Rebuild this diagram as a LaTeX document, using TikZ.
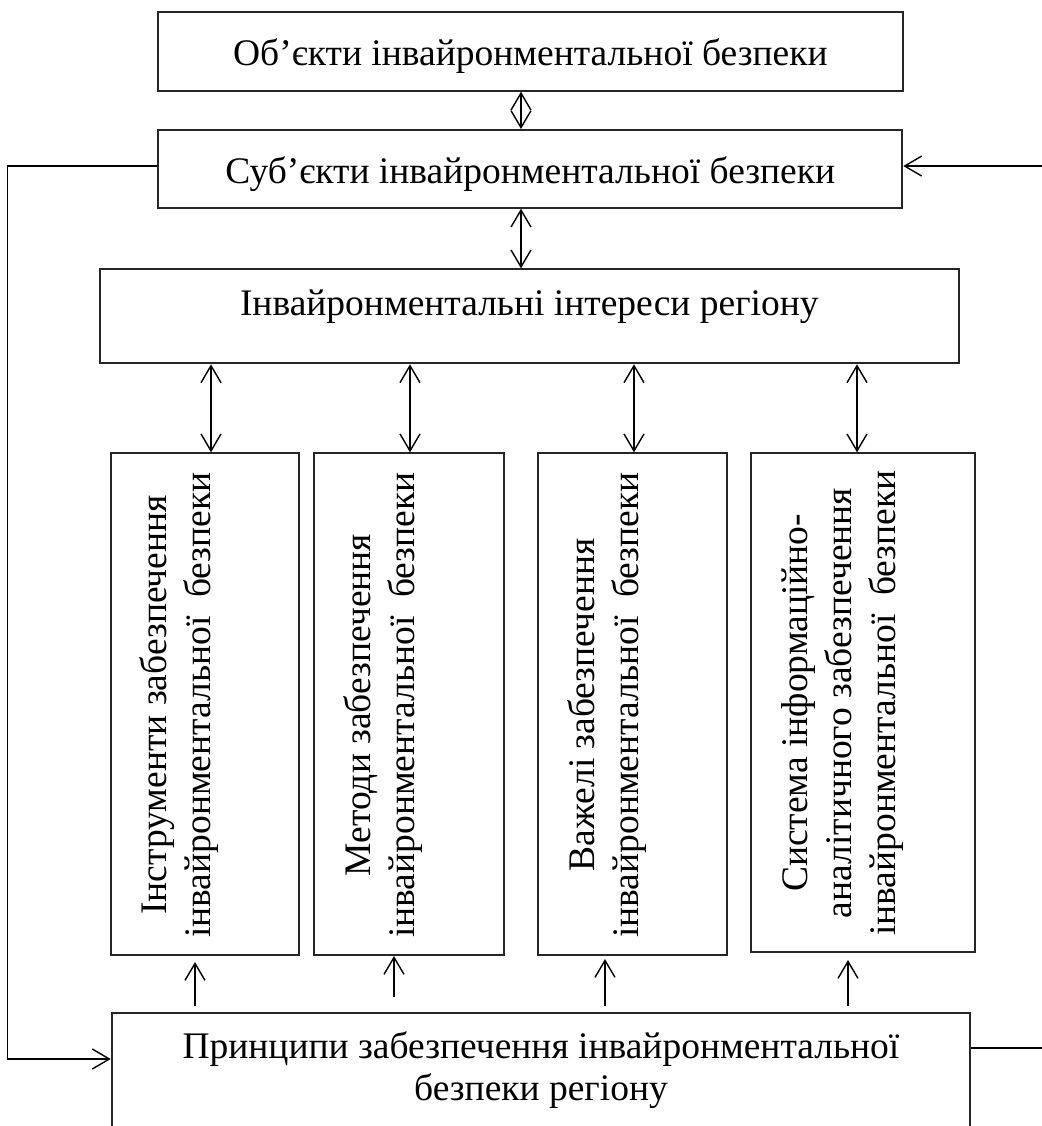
\documentclass[tikz,border=0pt]{standalone}
\usepackage{fontspec}
\setmainfont{Liberation Serif}
\usetikzlibrary{arrows.meta,calc}
\begin{document}
\begin{tikzpicture}[x=0.5pt,y=-0.5pt,
  box/.style={draw=black!85, line width=1pt, inner sep=0pt},
  conn/.style={line width=0.7pt, draw=black},
  arr/.style={conn, -{Straight Barb[length=8.5pt,width=10pt]}},
  dbl/.style={conn, {Straight Barb[length=8.5pt,width=10pt]}-{Straight Barb[length=8.5pt,width=10pt]}},
  txt/.style={inner sep=0pt, anchor=base, font=\fontsize{18.75pt}{22.5pt}\selectfont},
  vtxt/.style={txt, rotate=90}]
\useasboundingbox (0,0) rectangle (1042,1126);
\clip (0,0) rectangle (1042,1126);

% boxes
\node[box, minimum width=372.1pt, minimum height=39.5pt] (obj) at (530.4,51.2) {};
\node[box, minimum width=372pt, minimum height=38.85pt] (subj) at (530.3,168.85) {};
\node[box, minimum width=429.35pt, minimum height=47pt] (int) at (529.35,316.3) {};
\node[box, minimum width=94pt, minimum height=250.85pt] (b1) at (204.7,704.15) {};
\node[box, minimum width=95pt, minimum height=250.85pt] (b2) at (409,704.15) {};
\node[box, minimum width=94.5pt, minimum height=250.85pt] (b3) at (632.5,704.15) {};
\node[box, minimum width=112pt, minimum height=249.35pt] (b4) at (863,702.65) {};
\node[box, minimum width=429.15pt, minimum height=68.5pt] (bot) at (540.85,1081.5) {};

% texts
\node[txt] (objT) at (530.4,65) {Об’єкти інвайронментальної безпеки};
\node[txt] (subjT) at (530.3,183) {Суб’єкти інвайронментальної безпеки};
\node[txt] (intT) at (529.35,315) {Інвайронментальні інтереси регіону};
\node[txt] (botT1) at (541,1058) {Принципи забезпечення інвайронментальної};
\node[txt] (botT2) at (541,1100) {безпеки регіону};

\node[vtxt] (b1T1) at (166.7,705) {Інструменти забезпечення};
\node[vtxt] (b1T2) at (210.7,705) {інвайронментальної\ \ безпеки};
\node[vtxt] (b2T1) at (370,705) {Методи забезпечення};
\node[vtxt] (b2T2) at (414,705) {інвайронментальної\ \ безпеки};
\node[vtxt] (b3T1) at (594,705) {Важелі забезпечення};
\node[vtxt] (b3T2) at (638,705) {інвайронментальної\ \ безпеки};
\node[vtxt] (b4T1) at (807,703) {Система інформаційно-};
\node[vtxt] (b4T2) at (851,703) {аналітичного забезпечення};
\node[vtxt] (b4T3) at (895,703) {інвайронментальної\ \ безпеки};

% connector x positions
\coordinate (ax0) at (521,0);
\coordinate (ax1) at (211,0);
\coordinate (ax2) at (410,0);
\coordinate (ax3) at (634,0);
\coordinate (ax4) at (857,0);
\coordinate (ux1) at (195,0);
\coordinate (ux2) at (394,0);
\coordinate (ux3) at (605,0);
\coordinate (ux4) at (848,0);
\coordinate (lx) at (7.7,0);
\coordinate (rx) at (1046,0);

% vertical double arrows
\draw[dbl] (obj.south -| ax0) -- (subj.north -| ax0);
\draw[dbl] (subj.south -| ax0) -- (int.north -| ax0);
\draw[dbl] (int.south -| ax1) -- (b1.north -| ax1);
\draw[dbl] (int.south -| ax2) -- (b2.north -| ax2);
\draw[dbl] (int.south -| ax3) -- (b3.north -| ax3);
\draw[dbl] (int.south -| ax4) -- (b4.north -| ax4);

% up arrows from principles
\draw[arr, shorten <=3pt, shorten >=3pt] (bot.north -| ux1) -- (b1.south -| ux1);
\draw[arr, shorten <=7.5pt] (bot.north -| ux2) -- (b2.south -| ux2);
\draw[arr, shorten <=3pt, shorten >=1.5pt] (bot.north -| ux3) -- (b3.south -| ux3);
\draw[arr, shorten <=3pt, shorten >=3.5pt] (bot.north -| ux4) -- (b4.south -| ux4);

% feedback loops
\coordinate (sw) at ([yshift=1.4pt]subj.west);
\coordinate (se) at ([yshift=1.4pt]subj.east);
\coordinate (bw) at ([yshift=-23.5pt]bot.north west);
\coordinate (be) at ([yshift=-18pt]bot.north east);
\draw[arr] (sw) -- (sw -| lx) |- (bw);
\draw[arr] (se -| rx) -- (se);
\draw[conn] (be) -- (be -| rx);
\end{tikzpicture}
\end{document}
